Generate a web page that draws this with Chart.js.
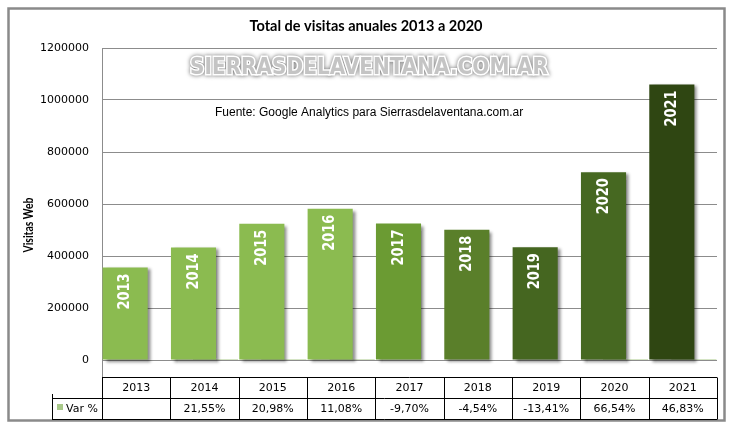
<!DOCTYPE html>
<html>
<head>
<meta charset="utf-8">
<script src="https://cdn.jsdelivr.net/npm/chart.js@4.4.1/dist/chart.umd.min.js"></script>
<style>
  html, body { margin: 0; padding: 0; background: #fff; }
  #wrap { width: 733px; height: 429px; }
</style>
</head>
<body>
<div id="wrap"><canvas id="chart" width="733" height="429"></canvas></div>
<script>
const years = ["2013", "2014", "2015", "2016", "2017", "2018", "2019", "2020", "2021"];
const visitas = [356000, 433000, 524000, 582000, 525000, 501000, 434000, 722000, 1060000];
const varPct = [null, 21.55, 20.98, 11.08, -9.70, -4.54, -13.41, 66.54, 46.83];
const barColors = ["#8bbb50", "#8bbb50", "#8bbb50", "#8bbb50", "#6b9b33", "#5a7f2a", "#456620", "#466821", "#2f4612"];
const yMax = 1200000;
const yStep = 200000;

const chartTitle = "Total de visitas anuales 2013 a 2020";
const yTitle = "Visitas Web";
const watermark = "SIERRASDELAVENTANA.COM.AR";
const source = "Fuente: Google Analytics para Sierrasdelaventana.com.ar";

// draws text squeezed/stretched to a given width
function fitText(ctx, text, x, y, width) {
    const w = ctx.measureText(text).width;
    ctx.save();
    ctx.translate(x, y);
    ctx.scale(width / w, 1);
    ctx.fillText(text, 0, 0);
    ctx.restore();
}

function line(ctx, x1, y1, x2, y2) {
    ctx.beginPath();
    ctx.moveTo(x1, y1);
    ctx.lineTo(x2, y2);
    ctx.stroke();
}

const frame = {
    id: "frame",
    beforeDraw(chart) {
        const ctx = chart.ctx;
        ctx.save();
        ctx.fillStyle = "#fff";
        ctx.fillRect(0, 0, chart.width, chart.height);
        ctx.strokeStyle = "#8a8a8a";
        ctx.lineWidth = 2.5;
        ctx.strokeRect(8.5, 8.5, 716, 412);
        ctx.restore();
    }
};

const shadow = {
    id: "shadow",
    beforeDatasetDraw(chart, args) {
        if (args.index !== 0) return;
        const ctx = chart.ctx;
        ctx.save();
        ctx.shadowColor = "rgba(0,0,0,0.45)";
        ctx.shadowBlur = 3;
        ctx.shadowOffsetX = 3;
        ctx.shadowOffsetY = 2;
    },
    afterDatasetDraw(chart, args) {
        if (args.index === 0) chart.ctx.restore();
    }
};

const decorations = {
    id: "decorations",
    afterDatasetsDraw(chart) {
        const ctx = chart.ctx;
        // year labels inside the bars
        chart.getDatasetMeta(0).data.forEach((bar, i) => {
            ctx.save();
            ctx.translate(bar.x, bar.y + 6);
            ctx.rotate(-Math.PI / 2);
            ctx.font = 'bold 16px "DejaVu Sans"';
            const w = ctx.measureText(years[i]).width;
            ctx.scale(36 / w, 1);
            ctx.textAlign = "right";
            ctx.textBaseline = "middle";
            ctx.fillStyle = "#fff";
            ctx.fillText(years[i], 0, 0);
            ctx.restore();
        });
    },
    afterDraw(chart) {
        const ctx = chart.ctx;
        const a = chart.chartArea;
        ctx.save();

        // title
        ctx.fillStyle = "#000";
        ctx.font = 'bold 15px "Lato"';
        ctx.textAlign = "center";
        ctx.textBaseline = "middle";
        fitText(ctx, chartTitle, 366, 26, 233);

        // y axis title
        ctx.save();
        ctx.translate(29, 225);
        ctx.rotate(-Math.PI / 2);
        ctx.font = 'bold 13px "Lato"';
        fitText(ctx, yTitle, 0, 0, 55);
        ctx.restore();

        // watermark
        ctx.save();
        ctx.font = 'bold 23px "DejaVu Sans Condensed", "DejaVu Sans"';
        ctx.textBaseline = "alphabetic";
        const ww = ctx.measureText(watermark).width;
        ctx.translate(369, 74);
        ctx.scale(358 / ww, 1);
        ctx.shadowColor = "rgba(0,0,0,0.6)";
        ctx.shadowBlur = 4;
        ctx.strokeStyle = "#fff";
        ctx.lineWidth = 3;
        ctx.strokeText(watermark, 0, 0);
        ctx.shadowColor = "transparent";
        ctx.fillStyle = "#c4c4c4";
        ctx.fillText(watermark, 0, 0);
        ctx.restore();

        // source note
        ctx.font = '12px "Liberation Sans"';
        ctx.textAlign = "left";
        ctx.fillStyle = "#000";
        ctx.fillText(source, 215, 113);

        // axis line down to the table
        ctx.strokeStyle = "#8a8a8a";
        ctx.lineWidth = 1;
        const lx = Math.round(a.left) + 0.5;
        line(ctx, lx, a.bottom, lx, 377);

        // data table
        const n = years.length;
        const cw = (a.right - a.left) / n;
        const r0 = 377.5, r1 = 398.5, r2 = 419.5;
        ctx.strokeStyle = "#000";
        line(ctx, a.left, r0, a.right, r0);
        line(ctx, 52, r1, a.right, r1);
        line(ctx, 52, r2, a.right, r2);
        for (let i = 0; i <= n; i++) {
            const x = Math.round(a.left + i * cw) + 0.5;
            line(ctx, x, r0, x, r2);
        }
        line(ctx, 52.5, 394, 52.5, r2);

        ctx.font = '11px "DejaVu Sans"';
        ctx.textAlign = "center";
        ctx.fillStyle = "#000";
        years.forEach((y, i) => {
            const cx = a.left + (i + 0.5) * cw;
            ctx.fillText(y, cx, 388);
            if (varPct[i] !== null) {
                ctx.fillText(varPct[i].toFixed(2).replace(".", ",") + "%", cx, 409);
            }
        });

        // legend key
        ctx.fillStyle = chart.data.datasets[1].backgroundColor;
        ctx.fillRect(57, 404, 6, 6);
        ctx.fillStyle = "#000";
        ctx.textAlign = "left";
        ctx.fillText(chart.data.datasets[1].label, 66, 409);

        ctx.restore();
    }
};

new Chart(document.getElementById("chart"), {
    type: "bar",
    data: {
        labels: years,
        datasets: [{
            label: "Visitas",
            data: visitas,
            backgroundColor: barColors,
            borderWidth: 0,
            clip: false
        }, {
            label: "Var %",
            data: varPct,
            backgroundColor: "#a9c98a",
            borderWidth: 0
        }]
    },
    options: {
        responsive: false,
        animation: false,
        devicePixelRatio: 1,
        categoryPercentage: 0.644,
        barPercentage: 2.05,
        layout: { padding: { left: 0, top: 48, right: 16, bottom: 69 } },
        plugins: {
            legend: { display: false },
            title: { display: false },
            tooltip: { enabled: false }
        },
        scales: {
            x: {
                display: false
            },
            y: {
                min: 0,
                max: yMax,
                afterFit(scale) { scale.width = 102; },
                ticks: {
                    stepSize: yStep,
                    padding: 13,
                    color: "#000",
                    font: { family: "DejaVu Sans", size: 11 },
                    callback: v => String(v)
                },
                grid: {
                    color: "#8c8c8c",
                    lineWidth: 1,
                    drawTicks: false
                },
                border: { color: "#8c8c8c" }
            }
        }
    },
    plugins: [frame, shadow, decorations]
});
</script>
</body>
</html>
